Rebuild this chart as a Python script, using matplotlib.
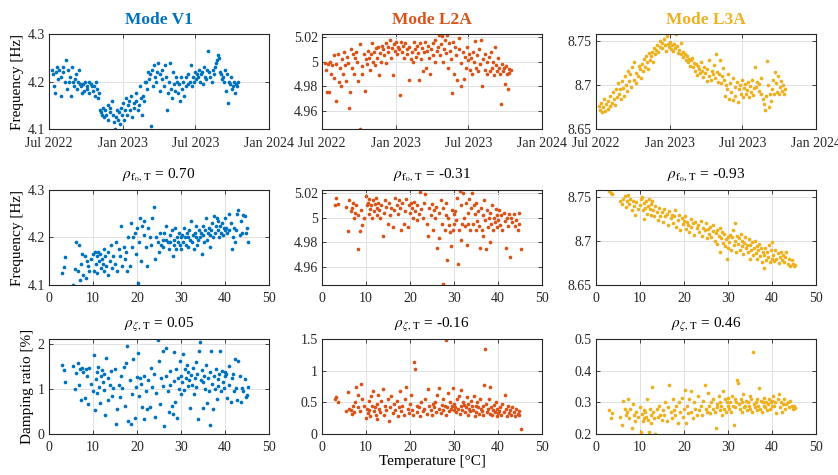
import numpy as np
import matplotlib
matplotlib.use("Agg")
import matplotlib.pyplot as plt
import matplotlib.dates as mdates
from matplotlib.ticker import FuncFormatter

plt.rcParams['font.family'] = ['Liberation Serif', 'DejaVu Serif']
plt.rcParams['mathtext.fontset'] = 'stix'

modes = ["Mode V1", "Mode L2A", "Mode L3A"]
mode_colors = ["#0072BD", "#D95319", "#EDB120"]
rho_freq = ["0.70", "-0.31", "-0.93"]
rho_damp = ["0.05", "-0.16", "0.46"]

# measurement day, counted from 1 Jul 2022
days = [8, 10, 13, 16, 18, 21, 23, 26, 29, 31,
        34, 36, 39, 42, 44, 47, 49, 52, 55, 57,
        60, 62, 65, 68, 70, 73, 75, 78, 81, 83,
        86, 88, 91, 94, 96, 99, 101, 104, 107, 109,
        112, 114, 117, 120, 122, 125, 127, 130, 133, 135,
        138, 140, 143, 146, 148, 151, 153, 156, 159, 161,
        164, 166, 169, 172, 174, 177, 179, 182, 185, 187,
        190, 192, 195, 198, 200, 203, 205, 208, 211, 213,
        216, 218, 221, 224, 226, 229, 231, 234, 237, 239,
        242, 244, 247, 250, 252, 255, 257, 260, 263, 265,
        268, 270, 273, 276, 278, 281, 283, 286, 289, 291,
        294, 296, 299, 302, 304, 307, 309, 312, 315, 317,
        320, 322, 325, 328, 330, 333, 335, 338, 341, 343,
        346, 348, 351, 354, 356, 359, 361, 364, 367, 369,
        372, 374, 377, 380, 382, 385, 387, 390, 393, 395,
        398, 400, 403, 406, 408, 411, 413, 416, 419, 421,
        424, 426, 429, 432, 434, 437, 439, 442, 445, 447,
        450, 452, 455, 457, 459, 462, 464, 466, 468, 471]

# frequency [Hz] over time
f_v1_time = [4.225, 4.215, 4.19, 4.175, 4.22, 4.23, 4.205, 4.225, 4.21, 4.17,
             4.22, 4.23, 4.2, 4.245, 4.185, 4.225, 4.2, 4.21, 4.17, 4.23,
             4.2, 4.19, 4.205, 4.215, 4.185, 4.2, 4.225, 4.195, 4.19, 4.175,
             4.195, 4.18, 4.2, 4.19, 4.185, 4.2, 4.175, 4.195, 4.19, 4.18,
             4.19, 4.17, 4.2, 4.185, 4.165, 4.175, 4.14, 4.135, 4.13, 4.145,
             4.125, 4.14, 4.13, 4.15, 4.12, 4.145, 4.135, 4.16, 4.13, 4.115,
             4.1, 4.125, 4.14, 4.12, 4.135, 4.11, 4.145, 4.13, 4.155, 4.12,
             4.14, 4.165, 4.13, 4.15, 4.16, 4.14, 4.17, 4.125, 4.155, 4.145,
             4.16, 4.175, 4.14, 4.15, 4.19, 4.165, 4.13, 4.17, 4.16, 4.2,
             4.2, 4.185, 4.22, 4.205, 4.215, 4.107, 4.225, 4.19, 4.235, 4.21,
             4.2, 4.22, 4.24, 4.18, 4.215, 4.205, 4.225, 4.19, 4.235, 4.21,
             4.14, 4.175, 4.2, 4.24, 4.185, 4.165, 4.22, 4.195, 4.18, 4.21,
             4.2, 4.175, 4.195, 4.16, 4.21, 4.185, 4.2, 4.17, 4.19, 4.21,
             4.195, 4.215, 4.2, 4.235, 4.19, 4.21, 4.2, 4.22, 4.205, 4.215,
             4.21, 4.225, 4.2, 4.215, 4.22, 4.195, 4.23, 4.21, 4.205, 4.225,
             4.265, 4.22, 4.21, 4.2, 4.225, 4.215, 4.23, 4.24, 4.245, 4.255,
             4.25, 4.22, 4.215, 4.205, 4.21, 4.2, 4.225, 4.18, 4.215, 4.155,
             4.2, 4.195, 4.21, 4.185, 4.19, 4.2, 4.175, 4.195, 4.19, 4.2]

f_l2a_time = [4.999, 4.993, 4.975, 4.998, 4.975, 5.0, 4.99, 4.997, 4.987, 5.005,
              4.968, 4.998, 5.006, 4.983, 4.995, 4.98, 5.002, 4.99, 5.008, 4.997,
              4.984, 5.004, 4.999, 4.962, 4.975, 5.01, 4.995, 5.006, 4.99, 5.003,
              5.008, 5.0, 4.984, 5.014, 4.945, 4.996, 4.99, 5.006, 4.976, 5.002,
              4.998, 5.009, 5.003, 4.993, 5.006, 5.015, 5.0, 5.008, 4.997, 5.011,
              5.003, 5.012, 4.989, 5.007, 5.0, 5.013, 5.01, 5.005, 4.999, 5.015,
              5.008, 5.012, 5.018, 5.003, 5.011, 4.989, 5.014, 5.009, 5.016, 5.006,
              5.012, 5.01, 4.973, 5.016, 5.008, 5.013, 5.003, 5.015, 5.01, 5.006,
              4.985, 5.012, 5.002, 5.008, 5.0, 5.016, 5.01, 5.004, 5.013, 5.007,
              4.985, 5.015, 5.002, 5.011, 4.992, 5.008, 5.016, 4.995, 5.009, 5.013,
              5.003, 4.99, 5.01, 5.015, 5.005, 5.0, 5.018, 5.009, 5.012, 5.022,
              5.005, 5.014, 5.021, 5.0, 5.01, 5.018, 5.007, 5.022, 4.995, 5.015,
              5.009, 5.002, 4.974, 5.016, 4.99, 5.012, 5.005, 4.985, 5.01, 5.019,
              4.999, 4.98, 5.008, 4.986, 5.004, 4.995, 5.012, 5.001, 5.006, 4.993,
              5.003, 4.99, 5.008, 5.0, 5.017, 4.995, 5.005, 4.992, 5.01, 4.998,
              5.018, 4.98, 5.002, 4.993, 5.006, 4.99, 5.0, 5.004, 4.992, 5.008,
              4.995, 5.0, 4.989, 5.012, 4.997, 4.992, 5.003, 4.995, 4.99, 4.965,
              4.998, 4.992, 4.995, 4.982, 4.996, 4.99, 4.978, 4.994, 4.991, 4.993]

f_l3a_time = [8.676, 8.672, 8.68, 8.669, 8.675, 8.684, 8.671, 8.678, 8.673, 8.682,
              8.676, 8.688, 8.68, 8.692, 8.684, 8.677, 8.696, 8.686, 8.702, 8.69,
              8.695, 8.684, 8.705, 8.697, 8.688, 8.71, 8.7, 8.693, 8.716, 8.705,
              8.712, 8.698, 8.72, 8.706, 8.726, 8.702, 8.714, 8.71, 8.722, 8.718,
              8.708, 8.724, 8.716, 8.73, 8.721, 8.733, 8.726, 8.718, 8.736, 8.729,
              8.733, 8.738, 8.726, 8.742, 8.735, 8.74, 8.745, 8.737, 8.75, 8.743,
              8.748, 8.742, 8.752, 8.745, 8.739, 8.756, 8.747, 8.743, 8.749, 8.741,
              8.745, 8.739, 8.747, 8.742, 8.758, 8.744, 8.736, 8.74, 8.748, 8.735,
              8.738, 8.732, 8.735, 8.728, 8.733, 8.726, 8.73, 8.722, 8.728, 8.731,
              8.72, 8.725, 8.716, 8.724, 8.711, 8.722, 8.718, 8.714, 8.726, 8.716,
              8.709, 8.72, 8.714, 8.705, 8.718, 8.71, 8.728, 8.706, 8.716, 8.712,
              8.723, 8.708, 8.735, 8.715, 8.703, 8.712, 8.728, 8.702, 8.71, 8.719,
              8.706, 8.688, 8.7, 8.695, 8.712, 8.684, 8.702, 8.692, 8.708, 8.683,
              8.698, 8.688, 8.703, 8.681, 8.695, 8.7, 8.69, 8.706, 8.686, 8.697,
              8.701, 8.69, 8.694, 8.704, 8.686, 8.699, 8.692, 8.706, 8.689, 8.697,
              8.72, 8.698, 8.704, 8.693, 8.701, 8.708, 8.69, 8.684, 8.678, 8.672,
              8.687, 8.727, 8.7, 8.675, 8.69, 8.682, 8.696, 8.706, 8.69, 8.715,
              8.702, 8.692, 8.71, 8.69, 8.698, 8.705, 8.693, 8.7, 8.69, 8.695]

# temperature [C]
temps = [3.0, 3.3, 3.6, 5.4, 5.9, 6.2, 6.5, 6.8, 7.1, 7.3,
         7.6, 7.8, 8.1, 8.3, 8.6, 8.9, 9.2, 9.6, 10.0, 10.2,
         10.4, 10.6, 10.8, 11.0, 11.2, 11.4, 11.6, 11.8, 12.0, 12.2,
         12.4, 12.6, 12.8, 13.0, 13.3, 13.5, 13.8, 14.0, 14.3, 14.6,
         14.9, 15.2, 15.5, 15.8, 16.1, 16.4, 16.7, 17.0, 17.3, 17.5,
         17.8, 18.0, 18.3, 18.6, 18.9, 19.2, 19.5, 19.8, 20.0, 20.2,
         20.5, 20.7, 21.0, 21.2, 21.5, 21.7, 22.0, 22.3, 22.6, 22.9,
         23.2, 23.5, 23.8, 24.1, 24.4, 24.7, 25.0, 25.3, 25.5, 25.8,
         26.0, 26.2, 26.5, 26.7, 27.0, 27.2, 27.4, 27.6, 27.9, 28.1,
         28.3, 28.5, 28.7, 28.9, 29.1, 29.3, 29.5, 29.7, 29.9, 30.1,
         30.3, 30.5, 30.7, 30.9, 31.1, 31.3, 31.5, 31.7, 31.9, 32.1,
         32.3, 32.5, 32.7, 32.9, 33.1, 33.3, 33.5, 33.7, 33.9, 34.1,
         34.3, 34.5, 34.7, 34.9, 35.1, 35.3, 35.5, 35.7, 35.9, 36.1,
         36.3, 36.5, 36.7, 36.9, 37.1, 37.3, 37.5, 37.7, 37.9, 38.1,
         38.3, 38.5, 38.7, 38.9, 39.1, 39.3, 39.5, 39.7, 39.9, 40.1,
         40.3, 40.5, 40.8, 41.0, 41.3, 41.5, 41.8, 42.0, 42.3, 42.6,
         42.8, 43.0, 43.3, 43.6, 43.9, 44.2, 44.5, 44.7, 44.9, 45.2]

# frequency [Hz] against temperature
f_v1_temp = [4.125, 4.138, 4.158, 4.1, 4.133, 4.19, 4.13, 4.185, 4.11, 4.145,
             4.165, 4.12, 4.16, 4.115, 4.15, 4.14, 4.13, 4.155, 4.165, 4.13,
             4.17, 4.145, 4.16, 4.125, 4.17, 4.15, 4.165, 4.135, 4.155, 4.145,
             4.175, 4.13, 4.16, 4.14, 4.17, 4.12, 4.15, 4.185, 4.135, 4.16,
             4.145, 4.19, 4.13, 4.175, 4.16, 4.225, 4.14, 4.18, 4.155, 4.17,
             4.13, 4.2, 4.14, 4.23, 4.18, 4.2, 4.21, 4.165, 4.22, 4.105,
             4.19, 4.24, 4.15, 4.225, 4.205, 4.235, 4.18, 4.14, 4.22, 4.2,
             4.185, 4.24, 4.265, 4.155, 4.2, 4.19, 4.17, 4.21, 4.185, 4.195,
             4.18, 4.21, 4.195, 4.225, 4.19, 4.175, 4.205, 4.19, 4.215, 4.16,
             4.195, 4.185, 4.22, 4.175, 4.2, 4.19, 4.21, 4.185, 4.2, 4.175,
             4.205, 4.19, 4.22, 4.2, 4.185, 4.21, 4.2, 4.18, 4.215, 4.195,
             4.235, 4.19, 4.205, 4.175, 4.21, 4.2, 4.225, 4.185, 4.195, 4.215,
             4.2, 4.21, 4.165, 4.205, 4.225, 4.19, 4.215, 4.24, 4.195, 4.21,
             4.22, 4.205, 4.18, 4.215, 4.23, 4.2, 4.245, 4.21, 4.225, 4.24,
             4.215, 4.235, 4.2, 4.225, 4.21, 4.23, 4.205, 4.22, 4.215, 4.24,
             4.22, 4.21, 4.25, 4.215, 4.23, 4.175, 4.2, 4.22, 4.19, 4.215,
             4.25, 4.258, 4.205, 4.235, 4.21, 4.248, 4.245, 4.21, 4.22, 4.19]

f_l2a_temp = [5.01, 5.016, 5.011, 5.009, 4.989, 5.014, 5.005, 5.008, 5.012, 5.0,
              5.004, 5.01, 4.974, 5.002, 4.989, 5.006, 4.994, 5.0, 5.018, 5.01,
              5.012, 5.003, 5.015, 5.007, 5.01, 5.0, 5.014, 5.005, 5.011, 5.016,
              5.008, 5.002, 5.012, 5.006, 5.0, 5.01, 4.985, 5.004, 5.014, 5.009,
              4.995, 5.012, 5.002, 5.008, 4.992, 5.006, 5.016, 5.01, 5.003, 5.014,
              5.008, 4.99, 5.012, 4.995, 5.005, 5.015, 4.992, 5.01, 5.004, 5.012,
              5.008, 5.0, 5.013, 5.005, 5.01, 4.998, 5.003, 5.021, 5.007, 5.0,
              5.012, 5.019, 4.995, 4.985, 5.008, 5.002, 5.011, 4.99, 5.006, 5.0,
              5.009, 4.975, 5.004, 4.983, 5.014, 4.995, 5.008, 4.946, 4.99, 5.002,
              5.012, 4.965, 5.0, 4.994, 4.988, 4.977, 5.006, 4.99, 5.003, 4.995,
              5.005, 4.998, 5.016, 4.962, 4.99, 5.022, 4.982, 5.01, 4.995, 5.02,
              5.0, 4.993, 5.012, 4.978, 5.004, 4.995, 5.015, 4.99, 5.008, 5.02,
              4.995, 5.01, 5.003, 4.99, 5.012, 4.997, 5.005, 4.993, 4.975, 5.008,
              4.99, 5.002, 4.985, 5.014, 4.998, 4.974, 5.006, 4.992, 5.0, 4.98,
              5.004, 4.995, 5.01, 4.99, 5.0, 4.996, 5.007, 4.992, 5.002, 4.998,
              5.006, 4.994, 5.002, 4.99, 5.004, 4.997, 4.975, 5.0, 4.993, 5.003,
              4.968, 5.0, 4.996, 5.003, 4.993, 4.998, 4.99, 5.004, 4.995, 4.974]

f_l3a_temp = [8.757, 8.755, 8.753, 8.745, 8.742, 8.748, 8.751, 8.739, 8.746, 8.752,
              8.742, 8.748, 8.735, 8.745, 8.74, 8.73, 8.744, 8.736, 8.741, 8.748,
              8.75, 8.735, 8.743, 8.725, 8.738, 8.745, 8.731, 8.74, 8.748, 8.736,
              8.742, 8.73, 8.745, 8.735, 8.728, 8.74, 8.733, 8.724, 8.738, 8.729,
              8.733, 8.722, 8.736, 8.728, 8.731, 8.718, 8.734, 8.726, 8.73, 8.72,
              8.728, 8.735, 8.716, 8.724, 8.73, 8.712, 8.726, 8.719, 8.723, 8.728,
              8.714, 8.722, 8.718, 8.71, 8.725, 8.716, 8.72, 8.707, 8.722, 8.715,
              8.718, 8.71, 8.723, 8.706, 8.715, 8.712, 8.72, 8.703, 8.714, 8.708,
              8.716, 8.705, 8.711, 8.718, 8.7, 8.709, 8.713, 8.697, 8.706, 8.715,
              8.687, 8.703, 8.71, 8.698, 8.708, 8.694, 8.702, 8.68, 8.705, 8.692,
              8.699, 8.707, 8.69, 8.704, 8.712, 8.695, 8.72, 8.7, 8.688, 8.706,
              8.697, 8.703, 8.69, 8.708, 8.694, 8.7, 8.685, 8.698, 8.704, 8.692,
              8.695, 8.688, 8.702, 8.68, 8.696, 8.69, 8.699, 8.684, 8.692, 8.7,
              8.686, 8.694, 8.68, 8.69, 8.697, 8.683, 8.692, 8.676, 8.688, 8.669,
              8.684, 8.692, 8.678, 8.688, 8.682, 8.695, 8.676, 8.69, 8.68, 8.699,
              8.684, 8.677, 8.69, 8.68, 8.686, 8.675, 8.682, 8.688, 8.678, 8.684,
              8.676, 8.682, 8.687, 8.674, 8.68, 8.672, 8.678, 8.674, 8.672, 8.673]

# damping ratio [%] against temperature
z_v1_temp = [1.55, 1.42, 1.15, 1.52, 1.0, 1.37, 1.58, 1.1, 1.45, 0.76,
             1.47, 1.38, 0.8, 1.44, 1.3, 0.68, 1.48, 1.12, 0.96, 1.77,
             0.53, 1.22, 1.38, 0.92, 1.5, 1.05, 0.7, 1.3, 1.42, 1.16,
             0.98, 1.35, 0.43, 1.7, 1.25, 0.75, 1.1, 1.4, 0.85, 1.02,
             1.45, 0.22, 0.55, 1.1, 0.82, 1.3, 1.02, 1.5, 0.62, 1.58,
             1.97, 0.3, 1.2, 0.22, 0.9, 1.68, 0.35, 1.05, 1.28, 1.8,
             0.85, 1.25, 1.12, 0.6, 0.33, 1.3, 0.95, 0.55, 1.2, 0.6,
             1.48, 1.05, 1.35, 0.37, 0.92, 2.1, 1.62, 0.66, 1.25, 1.08,
             1.85, 0.17, 1.3, 1.92, 0.95, 0.5, 1.4, 1.1, 0.62, 0.45,
             1.84, 1.18, 0.72, 1.45, 0.35, 1.25, 1.0, 1.62, 0.9, 1.3,
             1.15, 1.78, 0.98, 1.45, 1.25, 1.55, 1.08, 1.38, 1.2, 0.58,
             1.32, 1.1, 1.48, 0.9, 1.25, 1.6, 1.05, 1.35, 0.33, 1.85,
             2.05, 1.2, 1.42, 0.58, 1.15, 1.3, 1.0, 1.55, 0.7, 1.25,
             0.95, 1.38, 0.2, 1.85, 1.12, 0.55, 1.3, 1.0, 1.45, 0.78,
             1.22, 1.08, 1.35, 1.86, 0.95, 1.4, 1.15, 1.02, 1.3, 1.38,
             1.33, 0.8, 1.1, 1.52, 0.72, 1.25, 1.35, 0.95, 1.68, 1.02,
             0.75, 1.63, 1.3, 0.72, 1.02, 0.97, 1.22, 0.82, 0.87, 1.05]

z_l2a_temp = [0.55, 0.58, 0.5, 0.36, 0.66, 0.4, 0.38, 0.32, 0.45, 0.35,
              0.5, 0.75, 0.62, 0.42, 0.36, 0.79, 0.55, 0.45, 0.25, 0.4,
              0.33, 0.52, 0.38, 0.28, 0.6, 0.45, 0.68, 0.36, 0.42, 0.3,
              0.48, 0.23, 0.62, 0.4, 0.35, 0.52, 0.71, 0.3, 0.44, 0.38,
              0.55, 0.2, 0.42, 0.6, 0.33, 0.48, 0.38, 0.52, 0.28, 0.42,
              0.68, 0.36, 0.45, 0.3, 0.55, 0.74, 0.4, 0.33, 0.48, 0.62,
              0.38, 0.3, 1.13, 1.02, 0.45, 0.35, 0.42, 0.28, 0.5, 0.36,
              0.4, 0.55, 0.32, 0.71, 0.45, 0.38, 0.3, 0.48, 0.42, 0.5,
              0.35, 0.62, 0.4, 0.72, 0.33, 0.46, 0.55, 0.38, 0.44, 0.3,
              1.49, 0.42, 0.65, 0.36, 0.5, 0.4, 0.45, 0.73, 0.38, 0.48,
              0.42, 0.35, 0.55, 0.4, 0.6, 0.32, 0.45, 0.7, 0.38, 0.5,
              0.46, 0.35, 0.42, 0.58, 0.3, 0.48, 0.4, 0.36, 0.52, 0.44,
              0.38, 0.6, 0.28, 0.45, 0.35, 0.5, 0.42, 0.32, 0.55, 0.4,
              0.36, 0.44, 0.3, 0.78, 1.35, 0.48, 0.34, 0.4, 0.55, 0.32,
              0.74, 0.42, 0.3, 0.38, 0.46, 0.35, 0.5, 0.28, 0.4, 0.33,
              0.36, 0.42, 0.3, 0.48, 0.35, 0.62, 0.4, 0.28, 0.45, 0.33,
              0.38, 0.3, 0.42, 0.35, 0.28, 0.4, 0.32, 0.36, 0.3, 0.08]

z_l3a_temp = [0.277, 0.252, 0.265, 0.255, 0.228, 0.305, 0.28, 0.26, 0.27, 0.31,
              0.25, 0.28, 0.22, 0.295, 0.26, 0.24, 0.27, 0.255, 0.285, 0.205,
              0.262, 0.24, 0.275, 0.25, 0.27, 0.255, 0.31, 0.245, 0.205, 0.28,
              0.26, 0.235, 0.347, 0.27, 0.25, 0.2, 0.28, 0.255, 0.29, 0.26,
              0.245, 0.275, 0.26, 0.3, 0.24, 0.285, 0.355, 0.27, 0.25, 0.31,
              0.275, 0.26, 0.29, 0.235, 0.3, 0.27, 0.315, 0.255, 0.28, 0.34,
              0.235, 0.29, 0.265, 0.31, 0.27, 0.335, 0.25, 0.3, 0.28, 0.26,
              0.32, 0.275, 0.29, 0.26, 0.305, 0.355, 0.28, 0.27, 0.33, 0.29,
              0.265, 0.3, 0.28, 0.31, 0.27, 0.22, 0.295, 0.285, 0.32, 0.275,
              0.3, 0.29, 0.26, 0.335, 0.28, 0.31, 0.27, 0.3, 0.29, 0.315,
              0.28, 0.3, 0.27, 0.32, 0.29, 0.228, 0.31, 0.285, 0.3, 0.37,
              0.36, 0.295, 0.28, 0.31, 0.27, 0.3, 0.325, 0.285, 0.29, 0.305,
              0.275, 0.3, 0.29, 0.32, 0.28, 0.31, 0.27, 0.46, 0.295, 0.285,
              0.3, 0.275, 0.31, 0.29, 0.345, 0.28, 0.305, 0.27, 0.3, 0.29,
              0.315, 0.285, 0.3, 0.275, 0.295, 0.31, 0.28, 0.3, 0.29, 0.305,
              0.32, 0.29, 0.3, 0.265, 0.31, 0.325, 0.285, 0.3, 0.27, 0.295,
              0.31, 0.28, 0.295, 0.3, 0.285, 0.305, 0.29, 0.28, 0.29, 0.283]

dates = np.datetime64('2022-07-01') + np.array(days).astype('timedelta64[D]')

time_rows = [f_v1_time, f_l2a_time, f_l3a_time]
freq_rows = [f_v1_temp, f_l2a_temp, f_l3a_temp]
damp_rows = [z_v1_temp, z_l2a_temp, z_l3a_temp]

freq_lims = [(4.1, 4.3), (4.945, 5.0225), (8.65, 8.758)]
freq_ticks = [[4.1, 4.2, 4.3], [4.96, 4.98, 5.0, 5.02], [8.65, 8.7, 8.75]]
damp_lims = [(0, 2.12), (0, 1.5), (0.2, 0.5)]
damp_ticks = [[0, 1, 2], [0, 0.5, 1, 1.5], [0.2, 0.3, 0.4, 0.5]]

fig = plt.figure(figsize=(8.38, 4.75), dpi=100)
lefts = [0.0585, 0.3842, 0.7112]
bottoms = [0.7284, 0.400, 0.0863]
w, h = 0.2625, 0.2

fmt = FuncFormatter(lambda v, p: '%g' % round(v, 4))


def style(ax, xpad):
    ax.grid(True, color='#e1e1e1', linewidth=0.7)
    ax.set_axisbelow(True)
    for s in ax.spines.values():
        s.set_color('#262626')
        s.set_linewidth(0.8)
    ax.tick_params(direction='in', length=3, width=0.6, labelsize=10,
                   colors='#262626', top=True, right=True, pad=3)
    ax.tick_params(axis='x', pad=xpad)
    ax.yaxis.set_major_formatter(fmt)


for j in range(3):
    c = mode_colors[j]

    # row 1: frequency over time
    ax = fig.add_axes([lefts[j], bottoms[0], w, h])
    ax.scatter(dates, time_rows[j], s=7, color=c, linewidths=0)
    ax.set_xlim(np.datetime64('2022-07-01'), np.datetime64('2024-01-01'))
    ax.set_xticks([np.datetime64('2022-07-01'), np.datetime64('2023-01-01'),
                   np.datetime64('2023-07-01'), np.datetime64('2024-01-01')])
    ax.xaxis.set_major_formatter(mdates.DateFormatter('%b %Y'))
    ax.set_ylim(*freq_lims[j])
    ax.set_yticks(freq_ticks[j])
    style(ax, 6)
    ax.set_title(modes[j], color=c, fontsize=12.5, fontweight='bold', pad=7)
    if j == 0:
        ax.set_ylabel('Frequency [Hz]', fontsize=11)
        ax.yaxis.set_label_coords(-0.112, 0.5)

    # row 2: frequency against temperature
    ax = fig.add_axes([lefts[j], bottoms[1], w, h])
    ax.scatter(temps, freq_rows[j], s=7, color=c, linewidths=0)
    ax.set_xlim(0, 50)
    ax.set_xticks([0, 10, 20, 30, 40, 50])
    ax.set_ylim(*freq_lims[j])
    ax.set_yticks(freq_ticks[j])
    style(ax, 5)
    ax.set_title(r'$\rho_{\mathrm{f}_0,\,\mathrm{T}}$ = ' + rho_freq[j],
                 fontsize=11, pad=9)
    if j == 0:
        ax.set_ylabel('Frequency [Hz]', fontsize=11)
        ax.yaxis.set_label_coords(-0.112, 0.5)

    # row 3: damping ratio against temperature
    ax = fig.add_axes([lefts[j], bottoms[2], w, h])
    ax.scatter(temps, damp_rows[j], s=7, color=c, linewidths=0)
    ax.set_xlim(0, 50)
    ax.set_xticks([0, 10, 20, 30, 40, 50])
    ax.set_ylim(*damp_lims[j])
    ax.set_yticks(damp_ticks[j])
    style(ax, 5)
    ax.set_title(r'$\rho_{\zeta,\,\mathrm{T}}$ = ' + rho_damp[j],
                 fontsize=11, pad=8)
    if j == 0:
        ax.set_ylabel('Damping ratio [%]', fontsize=11)
        ax.yaxis.set_label_coords(-0.07, 0.5)
    if j == 1:
        ax.set_xlabel('Temperature [°C]', fontsize=11, labelpad=1)

fig.savefig('out.png', dpi=100)
